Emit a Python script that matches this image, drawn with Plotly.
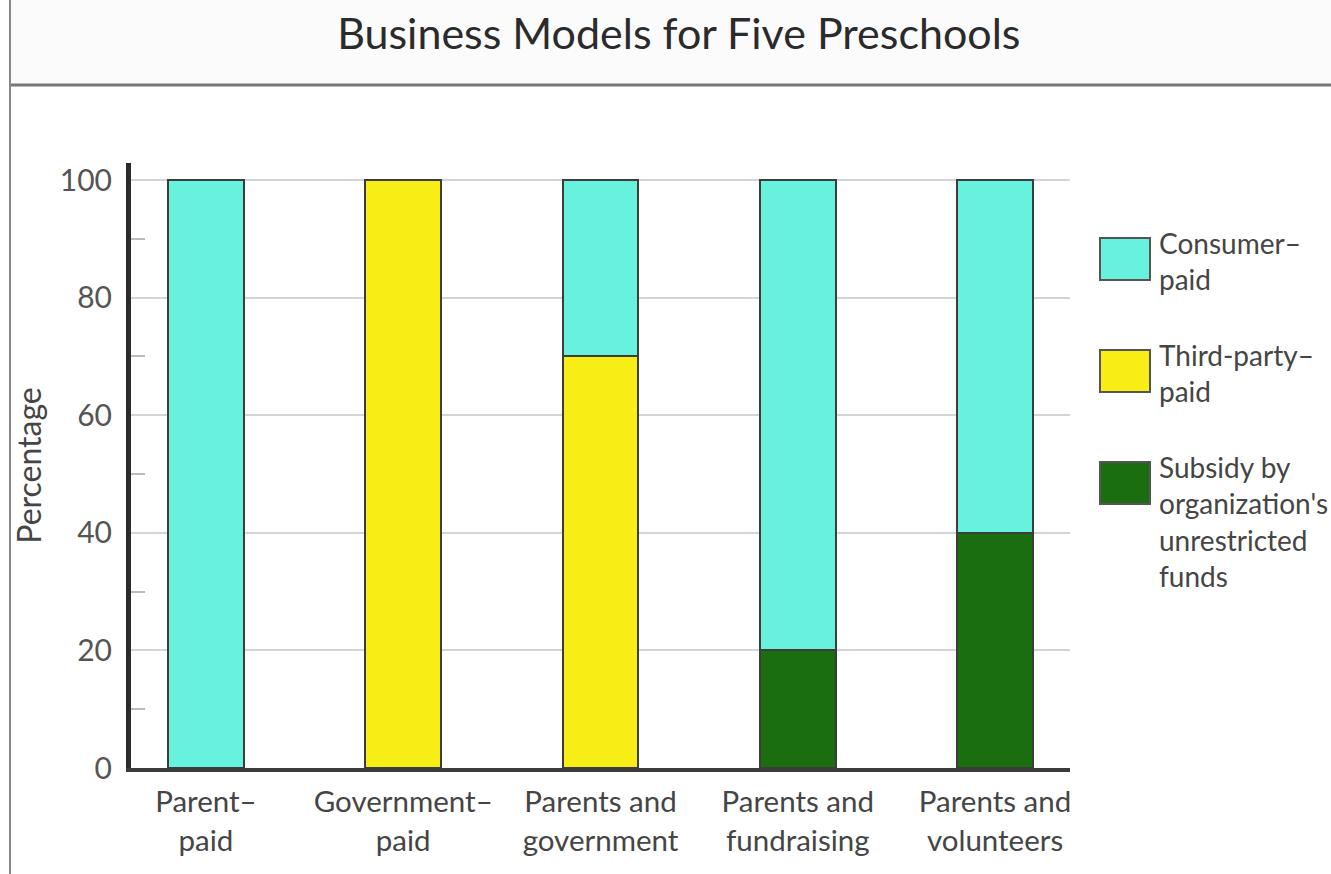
import plotly.graph_objects as go

categories = ["Parent–<br>paid", "Government–<br>paid", "Parents and<br>government",
              "Parents and<br>fundraising", "Parents and<br>volunteers"]
consumer_paid = [100, 0, 30, 80, 60]
third_party_paid = [0, 100, 70, 0, 0]
subsidy = [0, 0, 0, 20, 40]
series_names = ["Consumer–<br>paid", "Third-party–<br>paid",
                "Subsidy by<br>organization's<br>unrestricted<br>funds"]
colors = ["#66F2DC", "#F7EE16", "#1A6E10"]
y_ticks = [0, 20, 40, 60, 80, 100]

W, H = 1331, 874
L, R, T, B = 131, 1070, 163, 768  # plot area pixel box

def px(x):
    return (x - L) / (R - L)

def py(y):
    return (B - y) / (B - T)

FONT = "Lato"
TXT = "#454545"

def nz(v):
    return [None if a == 0 else a for a in v]

fig = go.Figure()
# stacking order bottom -> top: subsidy, third-party, consumer
for vals, name, col in [(subsidy, series_names[2], colors[2]),
                        (third_party_paid, series_names[1], colors[1]),
                        (consumer_paid, series_names[0], colors[0])]:
    fig.add_trace(go.Bar(x=list(range(len(categories))), y=nz(vals), name=name,
                         marker=dict(color=col, line=dict(color="#3c3c3c", width=2)),
                         width=0.385, showlegend=False))

shapes = []
annotations = []
# title band
shapes.append(dict(type="rect", xref="paper", yref="paper", x0=px(10), x1=px(W + 5),
                   y0=py(85), y1=py(-5), fillcolor="#fbfbfb", line=dict(width=0), layer="below"))
shapes.append(dict(type="line", xref="paper", yref="paper", x0=px(10), x1=px(W + 5),
                   y0=py(85), y1=py(85), line=dict(color="#777777", width=3)))
shapes.append(dict(type="line", xref="paper", yref="paper", x0=px(10), x1=px(10),
                   y0=py(-5), y1=py(H + 5), line=dict(color="#888888", width=2)))

# custom legend
box_tops = [238, 350, 462]
for i, (name, col) in enumerate(zip(series_names, colors)):
    yt = box_tops[i]
    shapes.append(dict(type="rect", xref="paper", yref="paper", x0=px(1100), x1=px(1150),
                       y0=py(yt + 42), y1=py(yt), fillcolor=col,
                       line=dict(color="#555555", width=2)))
    annotations.append(dict(xref="paper", yref="paper", x=px(1157), y=py(yt - 14),
                            xanchor="left", yanchor="top", align="left", showarrow=False,
                            text=name, font=dict(family=FONT, size=28, color=TXT)))

fig.update_layout(
    width=W, height=H,
    margin=dict(l=L, r=W - R, t=T, b=H - B),
    paper_bgcolor="white", plot_bgcolor="white",
    barmode="stack",
    title=dict(text="Business Models for Five Preschools", x=0.51, xanchor="center",
               y=1 - 34 / H, yanchor="middle",
               font=dict(family=FONT, size=43, color="#2b2b2b")),
    shapes=shapes, annotations=annotations,
    showlegend=False,
    font=dict(family=FONT, color=TXT),
)
fig.update_xaxes(range=[-0.38, 4.38], tickmode="array", tickvals=list(range(len(categories))),
                 ticktext=categories, tickfont=dict(family=FONT, size=29.5, color=TXT),
                 showline=True, linecolor="#3a3a3a", linewidth=4, ticks="", showgrid=False,
                 zeroline=False, fixedrange=True, ticklabelstandoff=5)
fig.update_yaxes(range=[0, 102.9], tickmode="array", tickvals=y_ticks,
                 tickfont=dict(family=FONT, size=30, color="#555555"),
                 showline=True, linecolor="#2d2a2b", linewidth=5, ticks="",
                 showgrid=True, gridcolor="#d4d4d4", gridwidth=2, zeroline=False,
                 minor=dict(tickvals=[10, 30, 50, 70, 90], ticks="inside", ticklen=14,
                            tickcolor="#bbbbbb", tickwidth=2, showgrid=False),
                 title=dict(text="Percentage", font=dict(family=FONT, size=32, color=TXT),
                            standoff=10),
                 ticklabelstandoff=8)
fig.write_html("out.html")
